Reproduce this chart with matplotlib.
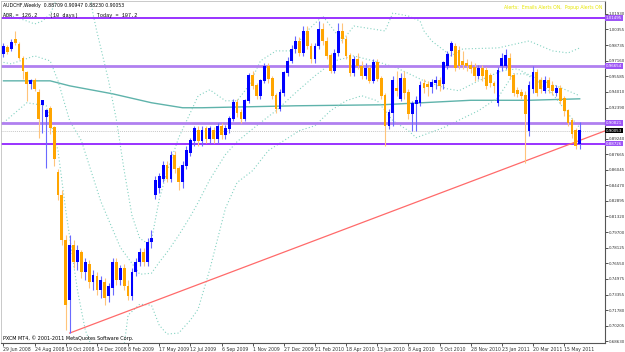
import matplotlib.pyplot as plt
from matplotlib import font_manager

# weekly AUDCHF candles, index 0 = week of 29 Jun 2008
opens = [0.9786, 0.9857, 0.9837, 0.9938, 0.9888, 0.9745, 0.9593, 0.9482, 0.9512, 0.9390,
         0.9268, 0.9147, 0.9228, 0.9035, 0.8578, 0.8345, 0.7888, 0.7279, 0.7837, 0.7665,
         0.7766, 0.7563, 0.7644, 0.7462, 0.7523, 0.7381, 0.7462, 0.7320, 0.7401, 0.7665,
         0.7482, 0.7604, 0.7421, 0.7320, 0.7563, 0.7665, 0.7766, 0.7665, 0.7868, 0.8345,
         0.8416, 0.8517, 0.8649, 0.8517, 0.8751, 0.8619, 0.8477, 0.8649, 0.8781, 0.8903,
         0.9005, 0.8903, 0.9025, 0.8923, 0.9005, 0.8923, 0.9045, 0.8964, 0.9025, 0.9126,
         0.9289, 0.9187, 0.9126, 0.9309, 0.9563, 0.9461, 0.9360, 0.9512, 0.9654, 0.9532,
         0.9360, 0.9228, 0.9390, 0.9593, 0.9715, 0.9837, 0.9918, 0.9796, 1.0020, 0.9867,
         0.9735, 0.9867, 1.0040, 0.9918, 0.9766, 0.9614, 0.9796, 1.0020, 0.9938, 0.9766,
         0.9593, 0.9735, 0.9664, 0.9563, 0.9634, 0.9512, 0.9695, 0.9532, 0.9360, 0.9055,
         0.9187, 0.9431, 0.9329, 0.9532, 0.9390, 0.9177, 0.9279, 0.9289, 0.9482, 0.9472,
         0.9451, 0.9492, 0.9512, 0.9482, 0.9664, 0.9817, 0.9867, 0.9817, 0.9715, 0.9685,
         0.9674, 0.9644, 0.9563, 0.9634, 0.9614, 0.9563, 0.9482, 0.9289, 0.9664, 0.9664,
         0.9745, 0.9563, 0.9411, 0.9390, 0.9360, 0.9005, 0.9431, 0.9593, 0.9512, 0.9411,
         0.9512, 0.9461, 0.9390, 0.9431, 0.9329, 0.9208, 0.9106, 0.9005, 0.88709]
highs = [0.9898, 0.9877, 0.9938, 1.0020, 0.9908, 0.9766, 0.9614, 0.9532, 0.9542, 0.9431,
         0.9319, 0.9228, 0.9258, 0.9055, 0.8619, 0.8396, 0.7939, 0.7939, 0.7888, 0.7837,
         0.7787, 0.7705, 0.7685, 0.7584, 0.7563, 0.7523, 0.7502, 0.7452, 0.7705, 0.7705,
         0.7634, 0.7644, 0.7482, 0.7604, 0.7705, 0.7807, 0.7807, 0.7908, 0.7989, 0.8548,
         0.8578, 0.8700, 0.8700, 0.8802, 0.8802, 0.8649, 0.8700, 0.8852, 0.8933, 0.9055,
         0.9055, 0.9055, 0.9055, 0.9055, 0.9045, 0.9086, 0.9086, 0.9066, 0.9157, 0.9329,
         0.9329, 0.9228, 0.9329, 0.9593, 0.9614, 0.9492, 0.9532, 0.9695, 0.9695, 0.9563,
         0.9390, 0.9431, 0.9614, 0.9756, 0.9877, 0.9969, 0.9959, 1.0070, 1.0070, 0.9898,
         0.9898, 1.0121, 1.0101, 0.9959, 0.9796, 0.9837, 1.0101, 1.0101, 0.9969, 0.9796,
         0.9766, 0.9796, 0.9715, 0.9695, 0.9664, 0.9735, 0.9735, 0.9563, 0.9390, 0.9228,
         0.9563, 0.9614, 0.9593, 0.9614, 0.9431, 0.9309, 0.9360, 0.9512, 0.9532, 0.9512,
         0.9532, 0.9563, 0.9553, 0.9715, 0.9817, 0.9918, 0.9898, 0.9867, 0.9817, 0.9735,
         0.9715, 0.9695, 0.9674, 0.9674, 0.9654, 0.9593, 0.9512, 0.9654, 0.9796, 0.9837,
         0.9796, 0.9593, 0.9451, 0.9431, 0.9411, 0.9512, 0.9664, 0.9634, 0.9553, 0.9563,
         0.9553, 0.9512, 0.9472, 0.9472, 0.9360, 0.9228, 0.9137, 0.9035, 0.90947]
lows = [0.9756, 0.9786, 0.9817, 0.9877, 0.9735, 0.9532, 0.9309, 0.9431, 0.9411, 0.8933,
        0.8984, 0.8629, 0.8974, 0.8649, 0.8294, 0.7837, 0.6975, 0.6944, 0.7604, 0.7584,
        0.7502, 0.7482, 0.7401, 0.7381, 0.7330, 0.7299, 0.7228, 0.7259, 0.7330, 0.7431,
        0.7431, 0.7381, 0.7279, 0.7279, 0.7523, 0.7624, 0.7624, 0.7624, 0.7807, 0.8314,
        0.8375, 0.8477, 0.8477, 0.8477, 0.8578, 0.8396, 0.8416, 0.8619, 0.8751, 0.8852,
        0.8852, 0.8852, 0.8883, 0.8883, 0.8883, 0.8883, 0.8923, 0.8923, 0.8984, 0.9106,
        0.9147, 0.9086, 0.9106, 0.9289, 0.9431, 0.9329, 0.9329, 0.9492, 0.9492, 0.9329,
        0.9187, 0.9208, 0.9360, 0.9563, 0.9695, 0.9796, 0.9766, 0.9766, 0.9837, 0.9695,
        0.9695, 0.9837, 0.9877, 0.9735, 0.9593, 0.9593, 0.9766, 0.9898, 0.9735, 0.9563,
        0.9563, 0.9634, 0.9532, 0.9532, 0.9492, 0.9492, 0.9512, 0.9329, 0.8852, 0.9025,
        0.9055, 0.9360, 0.9309, 0.9329, 0.9126, 0.9005, 0.9005, 0.9258, 0.9390, 0.9360,
        0.9390, 0.9431, 0.9411, 0.9431, 0.9634, 0.9766, 0.9614, 0.9634, 0.9634, 0.9614,
        0.9593, 0.9512, 0.9532, 0.9512, 0.9431, 0.9451, 0.9390, 0.9258, 0.9614, 0.9634,
        0.9532, 0.9360, 0.9350, 0.9329, 0.8680, 0.8954, 0.9390, 0.9360, 0.9390, 0.9390,
        0.9390, 0.9370, 0.9360, 0.9279, 0.9157, 0.9055, 0.8933, 0.8822, 0.88230]
closes = [0.9867, 0.9806, 0.9908, 0.9898, 0.9745, 0.9614, 0.9482, 0.9512, 0.9431, 0.9126,
          0.9309, 0.9208, 0.9035, 0.8720, 0.8345, 0.7888, 0.7228, 0.7837, 0.7665, 0.7787,
          0.7563, 0.7665, 0.7462, 0.7533, 0.7381, 0.7482, 0.7299, 0.7421, 0.7665, 0.7482,
          0.7604, 0.7421, 0.7320, 0.7563, 0.7665, 0.7766, 0.7665, 0.7868, 0.7908, 0.8497,
          0.8538, 0.8649, 0.8517, 0.8751, 0.8619, 0.8477, 0.8649, 0.8802, 0.8903, 0.9025,
          0.8903, 0.9005, 0.8923, 0.9025, 0.8923, 0.9045, 0.8964, 0.9025, 0.9126, 0.9289,
          0.9187, 0.9126, 0.9309, 0.9563, 0.9461, 0.9360, 0.9512, 0.9664, 0.9532, 0.9360,
          0.9228, 0.9390, 0.9593, 0.9715, 0.9837, 0.9918, 0.9796, 1.0020, 0.9867, 0.9735,
          0.9867, 1.0040, 0.9918, 0.9766, 0.9614, 0.9796, 1.0020, 0.9938, 0.9766, 0.9593,
          0.9735, 0.9664, 0.9563, 0.9634, 0.9512, 0.9695, 0.9532, 0.9360, 0.9055, 0.9187,
          0.9512, 0.9411, 0.9532, 0.9390, 0.9177, 0.9279, 0.9309, 0.9461, 0.9441, 0.9451,
          0.9492, 0.9512, 0.9461, 0.9695, 0.9786, 0.9898, 0.9644, 0.9664, 0.9674, 0.9664,
          0.9634, 0.9563, 0.9634, 0.9563, 0.9461, 0.9492, 0.9461, 0.9614, 0.9745, 0.9766,
          0.9563, 0.9390, 0.9380, 0.9360, 0.9177, 0.9461, 0.9593, 0.9390, 0.9431, 0.9512,
          0.9441, 0.9411, 0.9431, 0.9309, 0.9208, 0.9086, 0.8974, 0.8852, 0.90053]

date_idx = list(range(0, 145, 8))
date_labels = ["29 Jun 2008", "24 Aug 2008", "19 Oct 2008", "14 Dec 2008", "8 Feb 2009",
               "17 May 2009", "12 Jul 2009", "6 Sep 2009", "1 Nov 2009", "27 Dec 2009",
               "21 Feb 2010", "18 Apr 2010", "13 Jun 2010", "8 Aug 2010", "3 Oct 2010",
               "28 Nov 2010", "23 Jan 2011", "20 Mar 2011", "15 May 2011"]

price_ticks = [0.68630, 0.70205, 0.71780, 0.73355, 0.74975, 0.76550, 0.78125, 0.79700,
               0.81320, 0.82895, 0.84470, 0.86045, 0.87665, 0.89240, 0.92390, 0.94010,
               0.95585, 0.97160, 0.98735, 1.00355, 1.01930]

levels = [1.01495, 0.96654, 0.90821, 0.88726]
last_price = 0.90053

# long moving average
ma_idx = [0, 12, 17, 28, 38, 46, 51, 75, 97, 120, 135, 148]
ma_vals = [0.9512, 0.9512, 0.9461, 0.9380, 0.9289, 0.9238, 0.9238, 0.9258, 0.9268, 0.9314, 0.9314, 0.9329]

# bollinger bands
bb_up_idx = [0, 6, 8, 10, 12, 14, 18, 21, 23, 24, 25, 27, 29, 31, 33, 35, 37, 38, 40, 42,
             45, 48, 50, 53, 57, 60, 63, 66, 70, 74, 78, 82, 87, 90, 98, 100, 104, 107, 108,
             110, 115, 118, 127, 135, 141, 145, 148]
bb_up = [1.0202, 1.0121, 1.0091, 1.0121, 1.0192, 1.0375, 1.0800, 1.0700, 1.0192, 1.0010,
         0.9847, 0.9512, 0.9116, 0.8598, 0.8142, 0.7908, 0.7858, 0.7888, 0.8304, 0.8588,
         0.8933, 0.9187, 0.9360, 0.9421, 0.9309, 0.9309, 0.9461, 0.9715, 0.9817, 0.9817,
         1.0020, 1.0172, 0.9918, 1.0070, 1.0020, 1.0202, 1.0172, 1.0121, 1.0020, 0.9918,
         0.9766, 0.9837, 0.9847, 0.9918, 0.9817, 0.9796, 0.9847]
bb_mid_idx = [0, 2, 8, 12, 14, 17, 20, 25, 30, 35, 38, 40, 42, 45, 48, 50, 53, 57, 60, 65,
              70, 75, 80, 85, 90, 97, 101, 108, 114, 117, 122, 128, 132, 137, 142, 148]
bb_mid = [0.9700, 0.9685, 0.9766, 0.9715, 0.9512, 0.9106, 0.8903, 0.8284, 0.7817, 0.7543,
          0.7553, 0.7665, 0.7766, 0.7939, 0.8132, 0.8274, 0.8507, 0.8761, 0.8893, 0.9055,
          0.9208, 0.9390, 0.9563, 0.9715, 0.9766, 0.9695, 0.9644, 0.9512, 0.9431, 0.9411,
          0.9512, 0.9614, 0.9634, 0.9532, 0.9461, 0.9360]
bb_lo_idx = [0, 6, 11, 14, 16, 19, 21, 23, 28, 31, 32, 35, 38, 40, 42, 45, 48, 50, 53, 57,
             60, 64, 68, 72, 76, 80, 84, 88, 92, 96, 100, 104, 106, 113, 122, 127, 131, 134,
             137, 141, 145, 148]
bb_lo = [0.9086, 0.9289, 0.9258, 0.8801, 0.8192, 0.7380, 0.6975, 0.6771, 0.6460, 0.6822,
         0.7127, 0.7238, 0.7228, 0.7025, 0.6934, 0.6944, 0.7076, 0.7188, 0.7594, 0.8213,
         0.8477, 0.8598, 0.8801, 0.8903, 0.9005, 0.9055, 0.9208, 0.9309, 0.9360, 0.9309,
         0.9106, 0.9005, 0.8933, 0.9035, 0.9208, 0.9340, 0.9583, 0.9583, 0.9512, 0.9380,
         0.9177, 0.9035]

trend_idx = [17, 155]
trend_vals = [0.6944, 0.9010]

title_text = "AUDCHF,Weekly  0.88709 0.90947 0.88230 0.90053"
adr_text = "ADR = 126.2    (10 days)      Today = 107.2"
alert_text = "Alerts:  Emails Alerts ON,  Popup Alerts ON"
copyright_text = "PXCM MT4, \u00a9 2001-2011 MetaQuotes Software Corp."

# MT4 uses a small narrow font, use a narrow one when it is there
installed = {f.name for f in font_manager.fontManager.ttflist}
if "Liberation Sans Narrow" in installed:
    small_font, fs = "Liberation Sans Narrow", 4.4
else:
    small_font, fs = "DejaVu Sans", 3.3
axis_fs = fs - 0.4

fig = plt.figure(figsize=(6.25, 3.52), dpi=100)
ax = fig.add_axes([0.0016, 0.0256, 0.9664, 0.9716])
ax.set_facecolor("white")

for i in range(len(opens)):
    up = closes[i] >= opens[i]
    body_c = "#0000ff" if up else "#ffa500"
    wick_c = "#6a6aff" if up else "#ffc47a"
    ax.vlines(i, lows[i], highs[i], color=wick_c, lw=0.8, zorder=3)
    ax.bar(i, abs(closes[i] - opens[i]) + 0.0004, bottom=min(opens[i], closes[i]),
           width=0.72, color=body_c, lw=0, zorder=4)

band_style = dict(color="#84d2c2", lw=0.8, ls=(0, (1, 2)), zorder=2)
ax.plot(ma_idx, ma_vals, color="#5fb3ab", lw=1, zorder=2)
ax.plot(bb_up_idx, bb_up, **band_style)
ax.plot(bb_mid_idx, bb_mid, **band_style)
ax.plot(bb_lo_idx, bb_lo, **band_style)

level_colors = ["#9933ff", "#b080f0", "#b080f0", "#9933ff"]
level_widths = [1.4, 2.0, 2.0, 1.4]
for lv, c, w in zip(levels, level_colors, level_widths):
    ax.axhline(lv, color=c, lw=w, zorder=2)
ax.axhline(last_price, color="#c8c8c8", lw=0.7, ls=(0, (1, 1)), zorder=1)
ax.plot(trend_idx, trend_vals, color="#ff6a6a", lw=0.9, zorder=2)

ax.set_xlim(-0.64, 154.5)
ax.set_ylim(0.6843, 1.0325)

ax.yaxis.tick_right()
ax.set_yticks(price_ticks)
ax.set_yticklabels(["%.5f" % v for v in price_ticks], family=small_font)
ax.tick_params(axis="y", length=2, width=0.6, pad=0.6, labelsize=axis_fs, colors="#333333")
ax.set_xticks(date_idx)
ax.set_xticklabels(date_labels, ha="left", family=small_font)
ax.tick_params(axis="x", length=2, width=0.6, pad=1, labelsize=fs, colors="#333333")

for side in ["left", "top"]:
    ax.spines[side].set_color("#c0c0c0")
    ax.spines[side].set_linewidth(0.6)
for side in ["right", "bottom"]:
    ax.spines[side].set_color("#555555")
    ax.spines[side].set_linewidth(0.8)

for lv, c in zip(levels, level_colors):
    ax.annotate("%.5f" % lv, xy=(1.0, lv), xycoords=("axes fraction", "data"),
                xytext=(0.6, 0), textcoords="offset points", fontsize=axis_fs, color="white",
                family=small_font, va="center", ha="left",
                bbox=dict(boxstyle="square,pad=0.2", fc="#9d55f5", ec="none"))
ax.annotate("%.5f" % last_price, xy=(1.0, last_price), xycoords=("axes fraction", "data"),
            xytext=(0.6, 0), textcoords="offset points", fontsize=axis_fs, color="white",
            family=small_font, va="center", ha="left",
            bbox=dict(boxstyle="square,pad=0.2", fc="black", ec="none"))

ax.text(0.004, 0.988, title_text, transform=ax.transAxes, fontsize=fs, family=small_font,
        color="black", va="center")
ax.text(0.004, 0.959, adr_text, transform=ax.transAxes, fontsize=3.7,
        family="Liberation Mono", color="black", va="center")
ax.text(0.995, 0.981, alert_text, transform=ax.transAxes, fontsize=fs, family=small_font,
        color="#e6e600", ha="right", va="center")
ax.text(0.004, 0.015, copyright_text, transform=ax.transAxes, fontsize=fs + 0.2,
        family=small_font, color="black", va="center")

fig.savefig("out.png", dpi=100)
